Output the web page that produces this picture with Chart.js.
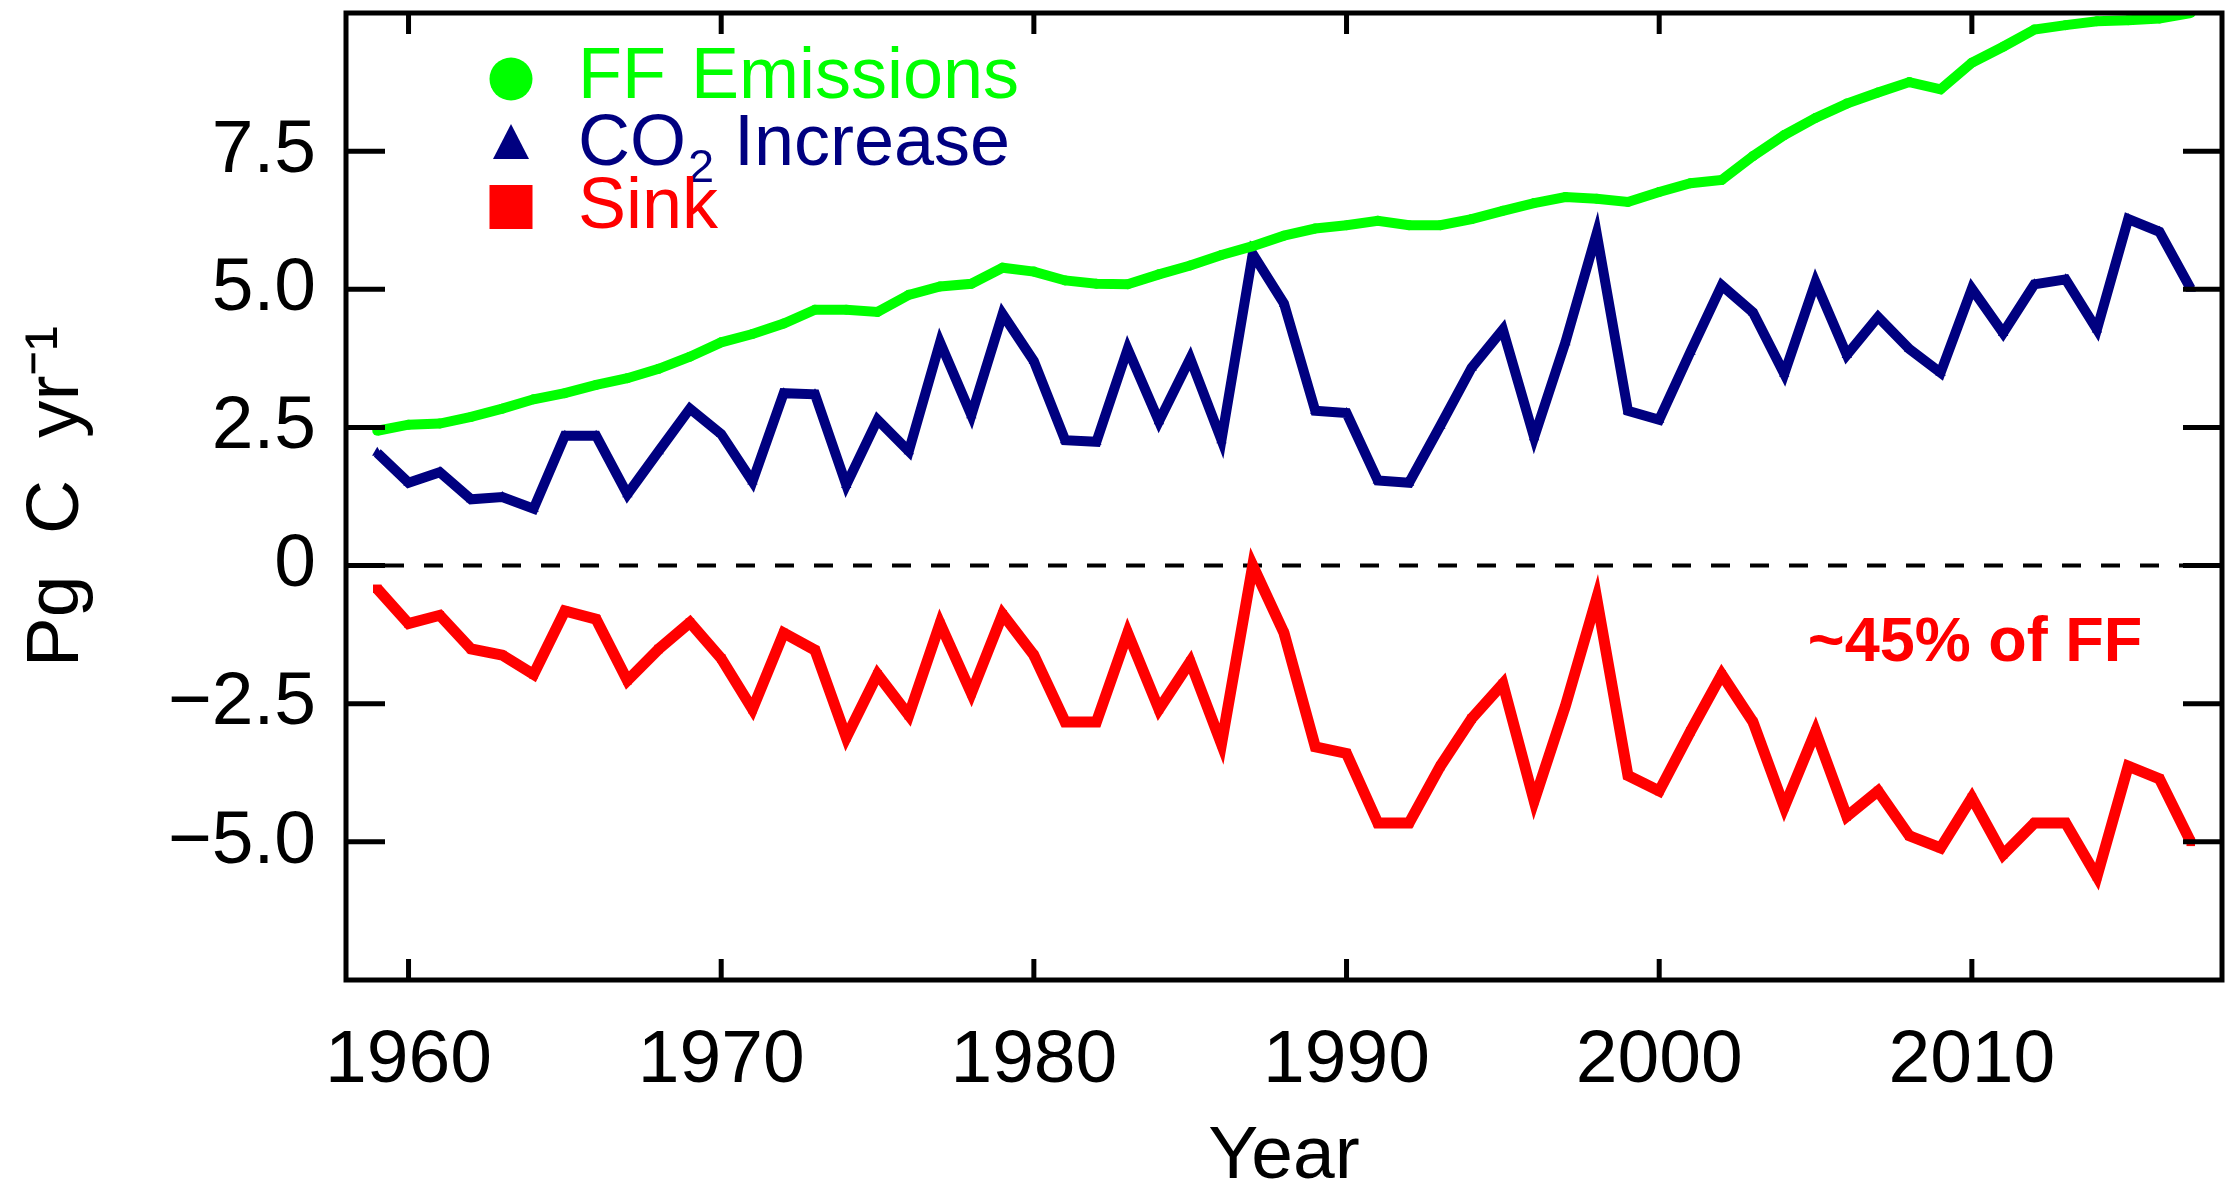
<!DOCTYPE html>
<html>
<head>
<meta charset="utf-8">
<title>FF Emissions, CO2 Increase, Sink</title>
<script src="https://cdn.jsdelivr.net/npm/chart.js@4.4.1/dist/chart.umd.min.js"></script>
<style>
body { margin: 0; background: #fff; }
canvas { display: block; }
</style>
</head>
<body>
<canvas id="grafico" width="2236" height="1188"></canvas>
<script>
// datos (Pg C / año)
var years = [1959, 1960, 1961, 1962, 1963, 1964, 1965, 1966, 1967, 1968,
	1969, 1970, 1971, 1972, 1973, 1974, 1975, 1976, 1977, 1978,
	1979, 1980, 1981, 1982, 1983, 1984, 1985, 1986, 1987, 1988,
	1989, 1990, 1991, 1992, 1993, 1994, 1995, 1996, 1997, 1998,
	1999, 2000, 2001, 2002, 2003, 2004, 2005, 2006, 2007, 2008,
	2009, 2010, 2011, 2012, 2013, 2014, 2015, 2016, 2017];

var ffEmissions = [2.44, 2.55, 2.57, 2.69, 2.84, 3.01, 3.12, 3.27, 3.39, 3.56,
	3.78, 4.04, 4.19, 4.38, 4.63, 4.63, 4.59, 4.90, 5.05, 5.10,
	5.39, 5.32, 5.16, 5.10, 5.09, 5.27, 5.43, 5.62, 5.78, 5.97,
	6.10, 6.16, 6.24, 6.16, 6.16, 6.27, 6.42, 6.56, 6.67, 6.64,
	6.58, 6.76, 6.92, 6.98, 7.41, 7.79, 8.10, 8.36, 8.56, 8.75,
	8.62, 9.10, 9.39, 9.70, 9.78, 9.85, 9.87, 9.90, 10.0];

var co2Increase = [2.04, 1.50, 1.69, 1.20, 1.24, 1.03, 2.35, 2.35, 1.29, 2.07,
	2.84, 2.38, 1.52, 3.12, 3.10, 1.46, 2.64, 2.07, 4.04, 2.72,
	4.55, 3.70, 2.27, 2.24, 3.92, 2.61, 3.75, 2.27, 5.64, 4.74,
	2.80, 2.76, 1.54, 1.50, 2.53, 3.58, 4.27, 2.32, 4.04, 6.01,
	2.80, 2.64, 3.87, 5.07, 4.58, 3.47, 5.13, 3.81, 4.50, 3.92,
	3.49, 5.01, 4.21, 5.09, 5.18, 4.27, 6.27, 6.04, 5.01];

var sink = [-0.42, -1.05, -0.90, -1.51, -1.62, -1.97, -0.82, -0.97, -2.08, -1.51,
	-1.03, -1.68, -2.60, -1.22, -1.53, -3.11, -1.97, -2.71, -1.05, -2.31,
	-0.88, -1.62, -2.83, -2.83, -1.22, -2.60, -1.74, -3.23, 0.0, -1.22,
	-3.28, -3.40, -4.66, -4.66, -3.63, -2.77, -2.14, -4.26, -2.54, -0.59,
	-3.80, -4.08, -3.00, -1.97, -2.83, -4.37, -3.00, -4.54, -4.08, -4.89,
	-5.11, -4.20, -5.23, -4.66, -4.66, -5.63, -3.63, -3.86, -5.00];

var yTicksMajor = [-5, -2.5, 0, 2.5, 5, 7.5];
var xTicksMajor = [1960, 1970, 1980, 1990, 2000, 2010];

var verde = '#00ff00';
var azul = '#000080';
var rojo = '#ff0000';
var fuente = "'Liberation Sans', Arial, Helvetica, sans-serif";

function puntos(valores) {
	var out = [];
	for (var i in years) {
		out.push({x: years[i], y: valores[i]});
	}
	return out;
}

function esMayor(v, lista) {
	for (var i = 0; i < lista.length; i++) {
		if (Math.abs(lista[i] - v) < 1e-9) return true;
	}
	return false;
}

// marco, marcas hacia dentro, linea del cero, leyenda y nota
var marcoPlugin = {
	id: 'marco',
	beforeDatasetsDraw: function(chart) {
		var ctx = chart.ctx;
		var a = chart.chartArea;
		var y0 = chart.scales.y.getPixelForValue(0);
		ctx.save();
		ctx.strokeStyle = '#000';
		ctx.lineWidth = 4;
		ctx.setLineDash([19, 20]);
		ctx.beginPath();
		ctx.moveTo(a.left, y0);
		ctx.lineTo(a.right, y0);
		ctx.stroke();
		ctx.restore();
	},
	afterDatasetsDraw: function(chart) {
		var ctx = chart.ctx;
		var a = chart.chartArea;
		var xs = chart.scales.x;
		var ys = chart.scales.y;
		ctx.save();
		ctx.strokeStyle = '#000';
		ctx.lineWidth = 5;
		ctx.setLineDash([]);

		// marcas del eje y (izquierda y derecha)
		ys.ticks.forEach(function(t) {
			if (t.value <= ys.min || t.value >= ys.max) return;
			var py = ys.getPixelForValue(t.value);
			var len = esMayor(t.value, yTicksMajor) ? 39 : 20;
			ctx.beginPath();
			ctx.moveTo(a.left, py); ctx.lineTo(a.left + len, py);
			ctx.moveTo(a.right, py); ctx.lineTo(a.right - len, py);
			ctx.stroke();
		});
		// marcas del eje x (abajo y arriba)
		xs.ticks.forEach(function(t) {
			if (t.value <= xs.min || t.value >= xs.max) return;
			var px = xs.getPixelForValue(t.value);
			var len = esMayor(t.value, xTicksMajor) ? 21 : 10;
			ctx.beginPath();
			ctx.moveTo(px, a.bottom); ctx.lineTo(px, a.bottom - len);
			ctx.moveTo(px, a.top); ctx.lineTo(px, a.top + len);
			ctx.stroke();
		});
		ctx.strokeRect(a.left, a.top, a.right - a.left, a.bottom - a.top);

		// leyenda
		var lx = a.left + 165;
		var tx = a.left + 232;
		ctx.fillStyle = verde;
		ctx.beginPath();
		ctx.arc(lx, a.top + 66, 21.5, 0, Math.PI * 2);
		ctx.fill();
		ctx.fillStyle = azul;
		ctx.beginPath();
		ctx.moveTo(lx, a.top + 111);
		ctx.lineTo(lx + 18, a.top + 146);
		ctx.lineTo(lx - 18, a.top + 146);
		ctx.closePath();
		ctx.fill();
		ctx.fillStyle = rojo;
		ctx.fillRect(lx - 21.5, a.top + 172, 43, 44);

		ctx.textBaseline = 'alphabetic';
		ctx.textAlign = 'left';
		ctx.font = '72px ' + fuente;
		ctx.fillStyle = verde;
		ctx.fillText('FF', tx, a.top + 85);
		ctx.fillText('Emissions', a.left + 345, a.top + 85);
		ctx.fillStyle = azul;
		ctx.fillText('CO', tx, a.top + 152);
		var wCO = ctx.measureText('CO').width;
		ctx.fillText('Increase', a.left + 388, a.top + 152);
		ctx.font = '47px ' + fuente;
		ctx.fillText('2', tx + wCO + 2, a.top + 169);
		ctx.font = '72px ' + fuente;
		ctx.fillStyle = rojo;
		ctx.fillText('Sink', tx, a.top + 215);

		// nota
		ctx.font = 'bold 63px ' + fuente;
		ctx.textAlign = 'center';
		ctx.fillStyle = rojo;
		ctx.fillText('~45% of FF', xs.getPixelForValue(2010.1), ys.getPixelForValue(-1.72));
		ctx.restore();
	}
};

var chartdata = {
	datasets: [
		{
			label: 'FF Emissions',
			data: puntos(ffEmissions),
			borderColor: verde,
			backgroundColor: verde,
			borderWidth: 10,
			pointStyle: 'circle',
			pointRadius: 5,
			pointBorderWidth: 0
		},
		{
			label: 'CO2 Increase',
			data: puntos(co2Increase),
			borderColor: azul,
			backgroundColor: azul,
			borderWidth: 10,
			pointStyle: 'triangle',
			pointRadius: 6,
			pointBorderWidth: 0
		},
		{
			label: 'Sink',
			data: puntos(sink),
			borderColor: rojo,
			backgroundColor: rojo,
			borderWidth: 11,
			pointStyle: 'rect',
			pointRadius: 6,
			pointBorderWidth: 0
		}
	]
};

var ctx = document.getElementById('grafico');

var lineGraph = new Chart(ctx, {
	type: 'line',
	data: chartdata,
	plugins: [marcoPlugin],
	options: {
		responsive: false,
		devicePixelRatio: 1,
		animation: false,
		layout: { padding: { top: 13, right: 14, left: 0, bottom: 0 } },
		elements: { line: { tension: 0, borderJoinStyle: 'miter' } },
		plugins: {
			legend: { display: false },
			tooltip: { enabled: false }
		},
		scales: {
			x: {
				type: 'linear',
				min: 1958,
				max: 2018,
				border: { display: false },
				grid: { display: false, drawTicks: false },
				ticks: {
					stepSize: 2,
					autoSkip: false,
					maxRotation: 0,
					padding: 36,
					color: '#000',
					font: { family: fuente, size: 75 },
					callback: function(v) {
						return esMayor(v, xTicksMajor) ? String(v) : null;
					}
				},
				title: {
					display: true,
					text: 'Year',
					color: '#000',
					font: { family: fuente, size: 75, lineHeight: 0.6 },
					padding: { top: 0, bottom: 8 }
				},
				afterFit: function(s) {
					s.height = 208;
					s.paddingLeft = 0;
					s.paddingRight = 0;
				}
			},
			y: {
				type: 'linear',
				min: -7.5,
				max: 10,
				border: { display: false },
				grid: { display: false, drawTicks: false },
				ticks: {
					stepSize: 1.25,
					autoSkip: false,
					padding: 30,
					color: '#000',
					font: { family: fuente, size: 75 },
					callback: function(v) {
						if (!esMayor(v, yTicksMajor)) return null;
						if (v === 0) return '0';
						return v.toFixed(1).replace('-', '\u2212');
					}
				},
				title: {
					display: true,
					text: 'Pg  C  yr\u207B\u00B9',
					color: '#000',
					font: { family: fuente, size: 75 },
					padding: { top: 12, bottom: 0 }
				},
				afterFit: function(s) {
					s.width = 346;
					s.paddingTop = 0;
					s.paddingBottom = 0;
				}
			}
		}
	}
});
</script>
</body>
</html>
